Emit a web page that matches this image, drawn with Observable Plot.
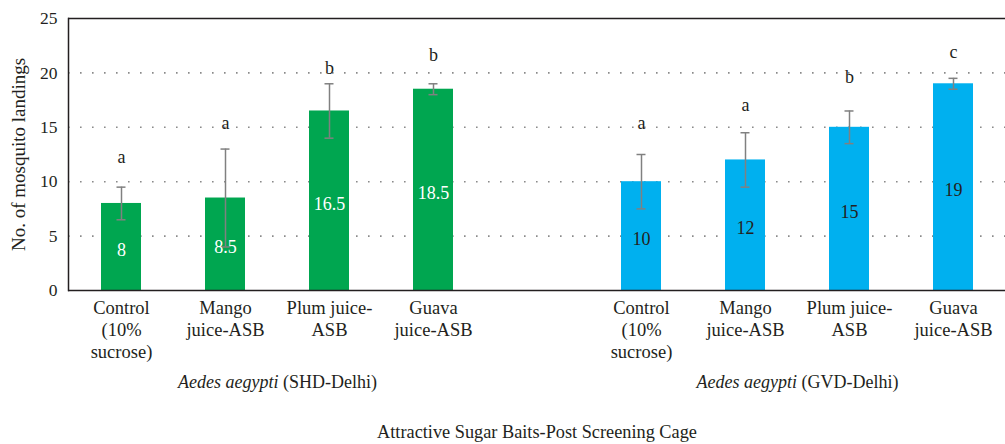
<!DOCTYPE html>
<html>
<head>
<meta charset="utf-8">
<script src="https://cdn.jsdelivr.net/npm/d3@7"></script>
<script src="https://cdn.jsdelivr.net/npm/@observablehq/plot@0.6"></script>
<style>
  html, body { margin: 0; padding: 0; background: #fff; }
  #chart { width: 1005px; height: 444px; }
</style>
</head>
<body>
<div id="chart"></div>
<script>
// ---- data ----
const groups = ["SHD-Delhi", "GVD-Delhi"];
const treatments = ["Control\n(10%\nsucrose)", "Mango\njuice-ASB", "Plum juice-\nASB", "Guava\njuice-ASB"];
const shdMeans = [8, 8.5, 16.5, 18.5];
const shdErr = [1.5, 4.5, 2.5, 0.5];
const shdLetters = ["a", "a", "b", "b"];
const shdLetterAt = [12.25, 15.4, 20.4, 21.6];
const gvdMeans = [10, 12, 15, 19];
const gvdErr = [2.5, 2.5, 1.5, 0.5];
const gvdLetters = ["a", "a", "b", "c"];
const gvdLetterAt = [15.35, 17.0, 19.6, 21.9];
const speciesName = "Aedes aegypti";
const yLabel = "No. of mosquito landings";
const caption = "Attractive Sugar Baits-Post Screening Cage";
const yTicks = [0, 5, 10, 15, 20, 25];
const gridTicks = [5, 10, 15, 20];

// ---- table ----
const rows = [];
const series = [[shdMeans, shdErr, shdLetters, shdLetterAt], [gvdMeans, gvdErr, gvdLetters, gvdLetterAt]];
groups.forEach((g, gi) => {
  const [m, e, l, la] = series[gi];
  treatments.forEach((t, i) => {
    rows.push({key: g + "|" + i, group: g, idx: i, mean: m[i], err: e[i], letter: l[i], letterAt: la[i]});
  });
});
const domain = [...rows.filter(d => d.group === groups[0]).map(d => d.key), "gap",
                ...rows.filter(d => d.group === groups[1]).map(d => d.key)];
const groupLabels = groups.map(g => ({key: g + "|2", text: speciesName + " (" + g + ")"}));

const font = "'Liberation Serif', 'DejaVu Serif', 'Times New Roman', serif";
const errColor = "#808080";

const plot = Plot.plot({
  width: 1005,
  height: 444,
  marginTop: 18,
  marginBottom: 154,
  marginLeft: 68,
  marginRight: 0,
  style: {fontFamily: font, fontSize: "17px", color: "#231f20", background: "#fff"},
  x: {domain, paddingInner: 0.616, paddingOuter: 0.308, axis: null},
  y: {domain: [0, 25], axis: null},
  color: {domain: groups, range: ["#00a650", "#00b0ef"]},
  marks: [
    Plot.gridY(gridTicks, {stroke: "#8a8a8a", strokeOpacity: 1, strokeWidth: 1.6, strokeDasharray: "1.6,10.4"}),
    Plot.axisY({ticks: yTicks, tickSize: 0, tickPadding: 11, fontSize: 17.5,
      label: yLabel, labelAnchor: "center", labelArrow: "none", labelOffset: 57}),
    Plot.axisX({tickSize: 0, tickPadding: 8, fontSize: 18.5, lineHeight: 1.19, label: null,
      tickFormat: k => k === "gap" ? "" : treatments[+k.split("|")[1]]}),
    Plot.barY(rows, {x: "key", y: "mean", fill: "group"}),
    Plot.ruleY([0, 25], {stroke: "#231f20", strokeWidth: 1.5}),
    Plot.frame({anchor: "left", stroke: "#231f20", strokeWidth: 1.5}),
    Plot.ruleX(rows, {x: "key", y1: d => d.mean - d.err, y2: d => d.mean + d.err, stroke: errColor, strokeWidth: 1.5}),
    Plot.tickY(rows, {x: "key", y: d => d.mean + d.err, insetLeft: 15.5, insetRight: 15.5, stroke: errColor, strokeWidth: 1.5}),
    Plot.tickY(rows, {x: "key", y: d => d.mean - d.err, insetLeft: 15.5, insetRight: 15.5, stroke: errColor, strokeWidth: 1.5}),
    Plot.text(rows.filter(d => d.group === groups[0]), {x: "key", y: d => d.mean / 2, dy: 3, text: d => String(d.mean), fill: "white", fontSize: 18}),
    Plot.text(rows.filter(d => d.group === groups[1]), {x: "key", y: d => d.mean / 2, dy: 3, text: d => String(d.mean), fill: "#231f20", fontSize: 18}),
    Plot.text(rows, {x: "key", y: "letterAt", text: "letter", fill: "#231f20", fontSize: 18}),
    Plot.text(groupLabels, {x: "key", text: "text", frameAnchor: "bottom", dy: 97, dx: -52, fill: "#231f20", fontSize: 18}),
    Plot.text([caption], {text: d => d, frameAnchor: "bottom", dy: 147, fill: "#231f20", fontSize: 18.3})
  ]
});

// y label: strip any arrow, enlarge; italicise the species name in group labels
d3.select(plot).selectAll("text").each(function () {
  if (this.textContent.includes(yLabel)) {
    if (this.textContent !== yLabel) {
      d3.select(this).selectAll("tspan").remove();
      this.textContent = yLabel;
    }
    d3.select(this).attr("font-size", 19).style("font-size", "19px");
  }
});
d3.select(plot).selectAll("text").filter(function () {
  return this.textContent.startsWith(speciesName);
}).each(function () {
  const rest = this.textContent.slice(speciesName.length);
  const sel = d3.select(this);
  sel.text(null);
  sel.append("tspan").attr("font-style", "italic").text(speciesName);
  sel.append("tspan").text(rest);
});

document.getElementById("chart").appendChild(plot);
</script>
</body>
</html>
